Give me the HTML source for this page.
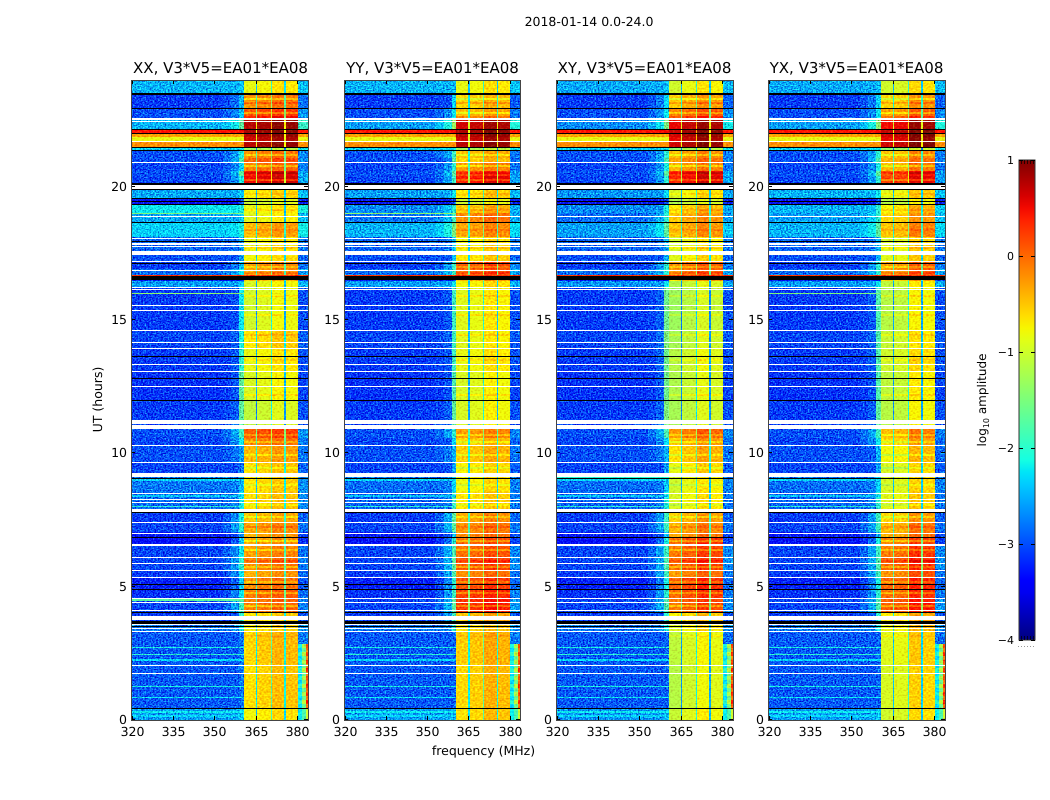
<!DOCTYPE html>
<html lang="en">
<head>
<meta charset="utf-8">
<title>2018-01-14 0.0-24.0</title>
<style>
html,body{margin:0;padding:0;background:#fff;}
svg{display:block;font-family:"DejaVu Sans","Liberation Sans",sans-serif;fill:#000;}
</style>
</head>
<body>
<svg id="figure" width="1050" height="800" viewBox="0 0 1050 800" xmlns="http://www.w3.org/2000/svg" shape-rendering="crispEdges">
  <defs>
    <filter id="speckle" x="0" y="0" width="1" height="1" color-interpolation-filters="sRGB">
      <feTurbulence type="fractalNoise" baseFrequency="0.6 0.75" numOctaves="2" seed="4" result="n"/>
      <feColorMatrix in="n" type="matrix" values="0.3 0 0 0 0.35  1 0 0 0 0  0.5 0 0 0 0.25  0 0 0 0 1" result="m"/>
      <feComposite in="SourceGraphic" in2="m" operator="arithmetic" k1="0" k2="1" k3="1.7" k4="-0.85" result="mixed"/>
      <feComposite in="mixed" in2="SourceAlpha" operator="in"/>
    </filter>
    <filter id="speckle-soft" x="0" y="0" width="1" height="1" color-interpolation-filters="sRGB">
      <feTurbulence type="fractalNoise" baseFrequency="0.45 0.6" numOctaves="1" seed="9" result="n"/>
      <feColorMatrix in="n" type="matrix" values="0.2 0 0 0 0.4  1 0 0 0 0  0.2 0 0 0 0.4  0 0 0 0 1" result="m"/>
      <feComposite in="SourceGraphic" in2="m" operator="arithmetic" k1="0" k2="1" k3="0.7" k4="-0.35" result="mixed"/>
      <feComposite in="mixed" in2="SourceAlpha" operator="in"/>
    </filter>
    <linearGradient id="jet-gradient" x1="0" y1="1" x2="0" y2="0"></linearGradient>
  </defs>
  <text x="589" y="26" font-size="12.5" text-anchor="middle" text-rendering="geometricPrecision">2018-01-14 0.0-24.0</text>
  <text x="220.5" y="73" font-size="15" text-anchor="middle" text-rendering="geometricPrecision">XX, V3*V5=EA01*EA08</text>
  <text x="432.5" y="73" font-size="15" text-anchor="middle" text-rendering="geometricPrecision">YY, V3*V5=EA01*EA08</text>
  <text x="644.5" y="73" font-size="15" text-anchor="middle" text-rendering="geometricPrecision">XY, V3*V5=EA01*EA08</text>
  <text x="856.5" y="73" font-size="15" text-anchor="middle" text-rendering="geometricPrecision">YX, V3*V5=EA01*EA08</text>
  <text x="483.5" y="755" font-size="12.5" text-anchor="middle" text-rendering="geometricPrecision">frequency (MHz)</text>
  <text x="0" y="0" transform="translate(102,399.5) rotate(-90)" font-size="12.5" text-anchor="middle" text-rendering="geometricPrecision">UT (hours)</text>
  <text x="0" y="0" transform="translate(986,400) rotate(-90)" font-size="12" text-anchor="middle" text-rendering="geometricPrecision">log<tspan font-size="8" dy="3">10</tspan><tspan dy="-3"> amplitude</tspan></text>
  <g id="panels"></g>
  <g id="colorbar"></g>
</svg>
<script>
// Frequency channels (MHz)
const freqEdges = [320, 353, 356, 359, 360.5, 364.9, 365.5, 370.3, 370.9, 375.3, 375.8, 380.1, 384];
const freqTicks = [320, 335, 350, 365, 380];
const hourTicks = [0, 5, 10, 15, 20];
const cbarTicks = [1, 0, -1, -2, -3, -4];
const cbarLabels = ['1', '0', '\u22121', '\u22122', '\u22123', '\u22124'];
// Gap depth below the zone level, for the gaps at 365, 370.5 and 375.5 MHz
const gapDepth = [-1.7, -1.2, -1.6];

// Time bands: upper edge of each band in UT hours; the final entry closes the axis
const bandEdges = [24.0,23.475,22.95,22.54,22.16,22.01,21.86,21.71,21.49,21.34,
  21.08,20.89,20.59,20.4,20.1,19.58,19.31,19.01,18.68,18.11,
  17.44,17.18,16.91,16.65,16.46,16.2,14.63,13.95,13.05,12.0,
  10.91,10.58,10.31,9.68,9.26,8.55,7.8,7.43,7.05,6.83,
  6.56,6.11,5.63,5.36,4.91,4.58,4.05,3.71,3.3,2.1,
  0.45,0];

// log10 amplitude per band: background (320-353 MHz)
const xxBg = [-2.5,-3.1,-3.0,-2.5,0.45,-0.3,-0.85,-0.2,-2.3,-3.0,
  -3.0,-3.05,-3.0,-3.05,-2.55,-3.35,-2.2,-2.55,-2.35,-2.9,
  -3.0,-3.1,-2.85,-3.3,-2.6,-3.1,-3.05,-3.1,-3.15,-3.1,
  -3.0,-3.05,-3.0,-3.05,-2.8,-2.85,-3.1,-3.05,-3.3,-3.4,
  -3.05,-3.05,-3.1,-3.25,-3.15,-3.05,-3.1,-2.8,-2.95,-2.95,-2.6];
const yyBg = [-2.5,-3.1,-3.0,-2.6,0.45,-0.3,-0.85,-0.2,-2.3,-3.0,
  -3.0,-3.05,-3.0,-3.05,-2.6,-3.35,-2.7,-2.8,-2.5,-2.9,
  -3.0,-3.1,-2.85,-3.3,-2.6,-3.1,-3.05,-3.1,-3.15,-3.1,
  -3.0,-3.05,-3.0,-3.05,-2.85,-2.9,-3.1,-3.05,-3.3,-3.4,
  -3.05,-3.05,-3.1,-3.25,-3.15,-3.05,-3.1,-2.8,-2.95,-2.95,-2.6];
const xyBg = [-2.55,-3.1,-3.0,-2.7,0.45,-0.3,-0.85,-0.2,-2.3,-3.0,
  -3.0,-3.05,-3.0,-3.05,-2.65,-3.35,-2.7,-2.85,-2.6,-2.9,
  -3.0,-3.1,-2.85,-3.3,-2.65,-3.1,-3.05,-3.1,-3.15,-3.1,
  -3.0,-3.05,-3.0,-3.05,-2.85,-2.9,-3.1,-3.05,-3.3,-3.4,
  -3.05,-3.05,-3.1,-3.25,-3.15,-3.05,-3.1,-2.8,-2.95,-2.95,-2.65];
const yxBg = [-2.55,-3.1,-3.0,-2.6,0.45,-0.3,-0.85,-0.2,-2.3,-3.0,
  -3.0,-3.05,-3.0,-3.05,-2.5,-3.35,-2.5,-2.6,-2.5,-2.9,
  -3.0,-3.1,-2.85,-3.3,-2.6,-3.1,-3.05,-3.1,-3.15,-3.1,
  -3.0,-3.05,-3.0,-3.05,-2.85,-2.9,-3.1,-3.05,-3.3,-3.4,
  -3.05,-3.05,-3.1,-3.25,-3.15,-3.05,-3.1,-2.8,-2.95,-2.95,-2.6];

// log10 amplitude per band: shoulder just below the bright zones (359-360.5 MHz)
const xxShoulder = [-2.45,-2.5,-2.4,-1.7,0.5,-0.3,-0.85,-0.2,-2.2,-2.1,
  -1.8,-2.3,-1.7,-2.1,-2.4,-3.0,-2.1,-2.4,-2.1,-2.6,
  -2.6,-2.4,-2.2,-3.2,-2.4,-2.2,-2.1,-2.0,-1.7,-1.7,
  -1.9,-2.2,-2.6,-2.8,-2.5,-2.2,-2.1,-2.0,-2.7,-2.4,
  -2.2,-2.0,-2.2,-2.4,-2.2,-1.9,-2.0,-2.2,-2.8,-2.8,-2.4];
const yyShoulder = [-2.45,-2.3,-2.2,-1.3,0.5,-0.3,-0.85,-0.2,-2.2,-1.9,
  -1.7,-2.0,-1.7,-1.9,-2.2,-3.0,-2.0,-1.9,-1.5,-2.4,
  -2.4,-1.9,-1.9,-3.2,-2.2,-1.9,-1.9,-1.9,-1.8,-1.7,
  -2.0,-2.3,-2.5,-2.6,-2.3,-1.9,-1.7,-1.7,-2.4,-2.0,
  -1.8,-1.7,-1.8,-2.0,-1.9,-1.7,-1.9,-2.0,-2.9,-2.9,-2.5];
const xyShoulder = [-2.45,-2.3,-2.2,-1.5,0.5,-0.3,-0.85,-0.2,-2.2,-2.0,
  -1.8,-2.1,-1.7,-2.0,-2.3,-3.0,-2.1,-2.0,-1.7,-2.5,
  -2.5,-2.0,-2.0,-3.2,-2.2,-1.6,-1.5,-1.6,-1.6,-1.5,
  -1.8,-2.3,-2.5,-2.6,-2.4,-2.1,-1.9,-1.9,-2.5,-2.1,
  -1.9,-1.8,-1.9,-2.1,-2.0,-1.8,-2.0,-2.1,-2.9,-2.9,-2.5];
const yxShoulder = [-2.45,-2.3,-2.2,-1.4,0.5,-0.3,-0.85,-0.2,-2.2,-2.0,
  -1.8,-2.1,-1.7,-2.0,-2.2,-3.0,-2.0,-2.0,-1.7,-2.5,
  -2.5,-2.0,-2.0,-3.2,-2.2,-1.8,-1.8,-1.8,-1.8,-1.7,
  -1.9,-2.2,-2.5,-2.6,-2.3,-2.0,-1.9,-1.9,-2.5,-2.1,
  -1.9,-1.8,-1.9,-2.1,-2.0,-1.8,-2.0,-2.1,-2.9,-2.9,-2.5];

// log10 amplitude per band: bright zones (360.5-380 MHz)
const xxZone = [-0.75,-0.15,0.2,0.85,0.9,0.85,0.75,0.85,-1.2,-0.1,
  0.1,-0.05,0.5,0.6,-0.65,-0.95,-0.75,-0.8,-0.35,-0.75,
  -0.7,-0.2,-0.25,-0.4,-0.85,-0.9,-0.6,-0.75,-0.85,-1.0,
  0.15,-0.1,-0.35,-0.55,-0.6,-0.55,-0.4,-0.25,-0.3,-0.25,
  -0.2,-0.1,-0.3,-0.1,0,-0.05,-0.6,-0.65,-0.5,-0.55,-0.7];
const yyZone = [-0.75,-0.5,-0.35,0.75,0.9,0.85,0.75,0.85,-1.2,-0.4,
  -0.5,-0.2,0.25,0.5,-0.6,-0.9,-0.45,-0.1,-0.25,-0.7,
  -0.6,0.15,0.05,-0.3,-0.7,-0.8,-0.8,-0.75,-0.85,-0.85,
  -0.2,-0.5,-0.45,-0.65,-0.7,-0.6,-0.25,-0.15,-0.1,0.1,
  0.05,0.15,-0.1,0.2,0.3,0.35,-0.4,-0.55,-0.45,-0.5,-0.55];
const xyZone = [-0.8,-0.35,0.05,0.75,0.9,0.85,0.75,0.85,-1.2,-0.25,
  -0.1,-0.2,0.45,0.55,-0.75,-1.0,-0.5,-0.3,-0.3,-0.8,
  -0.7,0,-0.05,-0.4,-1.0,-1.1,-1.05,-0.95,-1.0,-1.05,
  -0.05,-0.35,-0.45,-0.65,-0.8,-0.75,-0.35,-0.25,-0.15,0.2,
  0.1,0.15,-0.1,0.25,0.2,0.1,-0.55,-0.7,-0.9,-0.95,-0.85];
const yxZone = [-0.8,-0.4,-0.1,0.7,0.9,0.85,0.75,0.85,-1.2,-0.3,
  -0.2,-0.25,0.3,0.4,-0.7,-0.95,-0.55,-0.4,-0.3,-0.75,
  -0.7,-0.1,-0.1,-0.4,-0.9,-0.95,-0.85,-0.8,-0.9,-0.95,
  -0.25,-0.45,-0.6,-0.75,-0.75,-0.7,-0.4,-0.25,-0.2,0.05,
  0.1,0.2,-0.05,0.2,0.15,0.25,-0.5,-0.6,-0.7,-0.75,-0.8];

// Offset of each of the four bright sub-bands, per polarisation
const xxTilt = [-0.1, -0.02, 0.1, 0.06];
const yyTilt = [-0.1, -0.05, 0.12, 0.05];
const xyTilt = [-0.2, -0.05, 0.15, 0.05];
const yxTilt = [-0.2, -0.15, 0.2, 0.15];

// Narrow stripes inside the bright zones
const stripeHours = [23.29,23.14,22.76,22.61,21.19,20.78,20.51,20.25,19.73,19.13,18.38,17.7,16.99,16.76,15.9,15.19,14.44,13.5,12.19,10.69,10.43,9.94,9.45,8.81,8.06,7.61,7.24,6.71,6.38,5.96,5.74,5.18,4.76,4.28,3.15];
const stripeOffsets = [-0.4,0.25,-0.4,0.25,-0.35,-0.4,0.2,-0.35,0.15,0.15,0.15,0.2,-0.3,0.2,0.2,0.2,0.2,0.15,0.2,-0.3,-0.3,-0.3,-0.25,-0.2,-0.2,-0.3,0.2,-0.4,-0.35,0.2,-0.35,-0.3,-0.35,-0.4,0.12];

// Faint horizontal streaks in the background
const streakHours = [2.72, 2.44, 2.25, 1.24, 0.86, 0.3, 0.15, 8.4, 8.0, 9.0];
const streakLevels = [-2.1, -2.0, -2.3, -2.1, -2.2, -2.2, -2.3, -2.4, -2.0, -2.3];

// Interference lines per polarisation: hour then level
const xxRfiHours = [15.98, 18.98, 4.5, 6.85];
const xxRfiLevels = [-1.4, -1.5, -1.7, -1.8];
const yyRfiHours = [18.98];
const yyRfiLevels = [-1.4];
const xyRfiHours = [9.1];
const xyRfiLevels = [-2.0];
const yxRfiHours = [15.98];
const yxRfiLevels = [-1.5];

// Bright line across the whole band just above the 16.6 h gap
const hotLineHour = 16.67;
const hotLineLevel = 0.3;

// Comb at the top of the band during the first three hours
const combEdges = [2.85, 2.7, 2.55, 2.4, 2.25, 2.1, 1.95, 1.8, 1.65, 1.5, 1.35, 1.2, 1.05, 0.9, 0.75, 0.6, 0.45, 0];
const combInner = [-2.1, -2.3, -2.0, -2.3, -2.1, -2.3, -2.0, -2.3, -2.1, -2.3, -2.0, -2.3, -2.1, -2.3, -2.0, -2.3, -2.2];
const combMid = [-1.2, -1.6, -1.1, -1.6, -1.2, -1.6, -1.1, -1.6, -1.2, -1.6, -1.1, -1.6, -1.2, -1.6, -1.1, -1.6, -1.8];
const combEdge = [0.2, -0.1, 0.3, -0.1, 0.2, -0.1, 0.35, -0.05, 0.2, -0.1, 0.35, -0.05, 0.3, -0.1, 0.4, 0, -1.0];

// Flagged (white) and bad (black) time ranges, [start, end] hours
const whiteStart = [22.56,22.48,21.71,20.93,20.06,18.9,18.08,17.87,17.78,17.59,17.21,16.89,16.24,16.18,15.58,15.36,14.63,14.18,13.95,13.35,13.09,12.53,11.25,11.06,10.31,9.68,9.26,8.51,8.29,8.18,7.91,7.43,7.03,6.6,6.11,5.89,5.63,5.36,4.58,4.43,4.13,3.9,3.6,3.45,3.34,2.08,1.76];
const whiteEnd = [22.5,22.44,21.68,20.89,19.91,18.86,18.04,17.83,17.74,17.44,17.18,16.86,16.2,16.14,15.54,15.32,14.59,14.14,13.91,13.31,13.05,12.49,11.1,10.91,10.28,9.64,9.11,8.48,8.25,8.14,7.8,7.39,6.99,6.53,6.08,5.85,5.59,5.33,4.54,4.39,4.09,3.75,3.56,3.41,3.3,2.04,1.73];
const blackStart = [23.51,22.95,22.16,22.01,21.49,21.38,20.14,19.91,19.58,19.46,19.35,18.68,17.96,17.14,16.65,13.65,12.83,12.0,9.08,7.8,6.86,5.1,4.91,4.05,3.71,3.53,0.45];
const blackEnd = [23.44,22.91,22.13,21.98,21.45,21.34,20.06,19.88,19.54,19.43,19.31,18.64,17.93,17.1,16.5,13.61,12.79,11.96,9.04,7.76,6.83,5.06,4.88,4.01,3.6,3.49,0.41];

// Panels
const panelLefts = [131, 344, 556, 768];
const panelWidths = [177, 176, 177, 177];
const panelBgs = [xxBg, yyBg, xyBg, yxBg];
const panelShoulders = [xxShoulder, yyShoulder, xyShoulder, yxShoulder];
const panelZones = [xxZone, yyZone, xyZone, yxZone];
const panelTilts = [xxTilt, yyTilt, xyTilt, yxTilt];
const panelRfiHours = [xxRfiHours, yyRfiHours, xyRfiHours, yxRfiHours];
const panelRfiLevels = [xxRfiLevels, yyRfiLevels, xyRfiLevels, yxRfiLevels];

const NS = 'http://www.w3.org/2000/svg';
const plotTop = 80, plotBottom = 720;
const cbarX = 1019, cbarW = 16, cbarTop = 160, cbarBottom = 640;

function yScale(hour) { return Math.round(plotBottom - (plotBottom - plotTop) * hour / 24); }
function xScale(p, mhz) { return Math.round(panelLefts[p] + 0.5 + panelWidths[p] * (mhz - 320) / 64); }
function cbarScale(v) { return cbarBottom - (cbarBottom - cbarTop) * (v + 4) / 5; }

function lerpJet(points, f) {
  for (let i = 1; i < points.length; i++) {
    if (f <= points[i][0]) {
      const a = points[i - 1], b = points[i];
      return a[1] + (b[1] - a[1]) * (f - a[0]) / (b[0] - a[0]);
    }
  }
  return points[points.length - 1][1];
}
const jetR = [[0, 0], [0.35, 0], [0.66, 1], [0.89, 1], [1, 0.5]];
const jetG = [[0, 0], [0.125, 0], [0.375, 1], [0.64, 1], [0.91, 0], [1, 0]];
const jetB = [[0, 0.5], [0.11, 1], [0.34, 1], [0.65, 0], [1, 0]];
function color(v) {
  const f = Math.max(0, Math.min(1, (v + 4) / 5));
  const c = [jetR, jetG, jetB].map(p => Math.round(255 * lerpJet(p, f)));
  return 'rgb(' + c.join(',') + ')';
}

function shape(parent, tag, attrs) {
  const el = document.createElementNS(NS, tag);
  for (const k in attrs) el.setAttribute(k, attrs[k]);
  parent.appendChild(el);
  return el;
}
function cellAttrs(p, f0, f1, t0, t1, v) {
  const x0 = xScale(p, f0), x1 = xScale(p, f1);
  const yTop = yScale(t0), yBot = yScale(t1);
  return { x: x0, y: yTop, width: Math.max(1, x1 - x0), height: Math.max(1, yBot - yTop), fill: color(v) };
}

const panelsRoot = document.getElementById('panels');
panelLefts.forEach(function (left, p) {
  const plotWidth = panelWidths[p];
  const g = shape(panelsRoot, 'g', {});
  
  

  const noisy = shape(g, 'g', { filter: 'url(#speckle)' });
  
  
  const smooth = shape(g, 'g', { filter: 'url(#speckle-soft)' });
  
  

  for (let b = 0; b < bandEdges.length - 1; b++) {
    const t0 = bandEdges[b], t1 = bandEdges[b + 1];
    const bg = panelBgs[p][b], sh = panelShoulders[p][b], z = panelZones[p][b];
    const tilt = panelTilts[p];
    const hot = z > -0.5;
    const levels = [
      bg,
      bg + (sh - bg) * (hot ? 0.15 : 0.03),
      bg + (sh - bg) * (hot ? 0.4 : 0.12),
      sh,
      z + tilt[0],
      z + gapDepth[0],
      z + tilt[1],
      z + gapDepth[1],
      z + tilt[2],
      z + gapDepth[2],
      z + tilt[3],
      bg < -2 ? bg + 0.1 + 0.3 * Math.max(0, z + 0.7) : bg
    ];
    levels.forEach(function (v, c) {
      const target = (bg < -1 && (c < 4 || c === 11)) ? noisy : smooth;
      const cell = shape(target, 'rect', cellAttrs(p, freqEdges[c], freqEdges[c + 1], t0, t1, v));
      
      
    });
  }

  // stripes inside each bright sub-band
  stripeHours.forEach(function (hour, s) {
    let b = 0;
    while (b < bandEdges.length - 2 && bandEdges[b + 1] > hour) b++;
    [4, 6, 8, 10].forEach(function (c, i) {
      const v = panelZones[p][b] + panelTilts[p][i] + stripeOffsets[s];
      const stripe = shape(smooth, 'rect', cellAttrs(p, freqEdges[c], freqEdges[c + 1], hour + 0.04, hour - 0.04, v));
      
      
    });
  });

  // background streaks
  streakHours.forEach(function (hour, s) {
    const streak = shape(noisy, 'rect', cellAttrs(p, 320, 360.5, hour + 0.02, hour - 0.02, streakLevels[s]));
    
    
  });

  // comb at the high-frequency edge
  combMid.forEach(function (v, s) {
    const inner = shape(smooth, 'rect', cellAttrs(p, 380.1, 381.6, combEdges[s], combEdges[s + 1], combInner[s]));
    
    
    const mid = shape(smooth, 'rect', cellAttrs(p, 381.6, 383, combEdges[s], combEdges[s + 1], v));
    
    
    const edge = shape(smooth, 'rect', cellAttrs(p, 383, 384, combEdges[s], combEdges[s + 1], combEdge[s]));
    
    
  });

  // interference lines in the quiet part of the band
  panelRfiHours[p].forEach(function (hour, s) {
    const rfi = shape(smooth, 'rect', cellAttrs(p, 320, 360.5, hour + 0.02, hour - 0.02, panelRfiLevels[p][s]));
    
    
  });
  const hotLine = shape(smooth, 'rect', cellAttrs(p, 320, 384, hotLineHour + 0.02, hotLineHour - 0.02, hotLineLevel));
  
  

  // flagged and bad ranges
  whiteStart.forEach(function (hour, s) {
    const attrs = cellAttrs(p, 320, 384, hour, whiteEnd[s], 0);
    attrs.fill = '#ffffff';
    const flag = shape(g, 'rect', attrs);
    
    
  });
  blackStart.forEach(function (hour, s) {
    const attrs = cellAttrs(p, 320, 384, hour, blackEnd[s], 0);
    attrs.fill = '#000000';
    const bad = shape(g, 'rect', attrs);
    
    
  });

  // ticks
  freqTicks.forEach(function (mhz) {
    const x = xScale(p, mhz) + 0.5;
    const low = shape(g, 'line', { x1: x, x2: x, y1: plotBottom, y2: plotBottom - 4, stroke: '#000' });
    
    
    const high = shape(g, 'line', { x1: x, x2: x, y1: plotTop, y2: plotTop + 4, stroke: '#000' });
    
    
    const label = shape(g, 'text', { x: x, y: 736, 'font-size': 12.5, 'text-anchor': 'middle', 'text-rendering': 'geometricPrecision' });
    
    
    label.textContent = String(mhz);
  });
  hourTicks.forEach(function (hour) {
    const y = yScale(hour) - 0.5;
    const a = shape(g, 'line', { x1: left, x2: left + 4, y1: y, y2: y, stroke: '#000' });
    
    
    const b = shape(g, 'line', { x1: left + plotWidth, x2: left + plotWidth - 4, y1: y, y2: y, stroke: '#000' });
    
    
    const label = shape(g, 'text', { x: left - 4, y: y + 4.5, 'font-size': 12.5, 'text-anchor': 'end', 'text-rendering': 'geometricPrecision' });
    
    
    label.textContent = String(hour);
  });

  const frame = shape(g, 'rect', { x: left + 0.5, y: plotTop + 0.5, width: plotWidth, height: plotBottom - plotTop, fill: 'none', stroke: '#444' });
  
  
});

// Colorbar
const gradient = document.getElementById('jet-gradient');
for (let i = 0; i <= 40; i++) {
  const stop = shape(gradient, 'stop', { offset: i / 40, 'stop-color': color(-4 + 5 * i / 40) });
  
  
}
const cbarRoot = document.getElementById('colorbar');
const cbarBar = shape(cbarRoot, 'rect', { x: cbarX, y: cbarTop, width: cbarW, height: cbarBottom - cbarTop, fill: 'url(#jet-gradient)', stroke: '#333' });


cbarTicks.forEach(function (v, i) {
  const y = Math.round(cbarScale(v)) + 0.5;
  const a = shape(cbarRoot, 'line', { x1: cbarX, x2: cbarX + 4, y1: y, y2: y, stroke: '#000' });
  
  
  const b = shape(cbarRoot, 'line', { x1: cbarX + cbarW, x2: cbarX + cbarW - 4, y1: y, y2: y, stroke: '#000' });
  
  
  const label = shape(cbarRoot, 'text', { x: cbarX - 5, y: y + 3.5, 'font-size': 11, 'text-anchor': 'end', 'text-rendering': 'geometricPrecision' });
  
  
  label.textContent = cbarLabels[i];
});
const cbarDots = shape(cbarRoot, 'line', { x1: 1018, x2: 1035, y1: 646.5, y2: 646.5, stroke: '#999', 'stroke-dasharray': '1 2' });


for (let i = 0; i < 5; i++) {
  const x = cbarX + 2.5 + i * 3;
  const topMark = shape(cbarRoot, 'line', { x1: x, x2: x, y1: cbarTop, y2: cbarTop + 4, stroke: '#000', 'stroke-opacity': 0.7 });
  
  
  const bottomMark = shape(cbarRoot, 'line', { x1: x, x2: x, y1: cbarBottom, y2: cbarBottom - 4, stroke: '#000', 'stroke-opacity': 0.7 });
  
  
}
</script>
</body>
</html>
